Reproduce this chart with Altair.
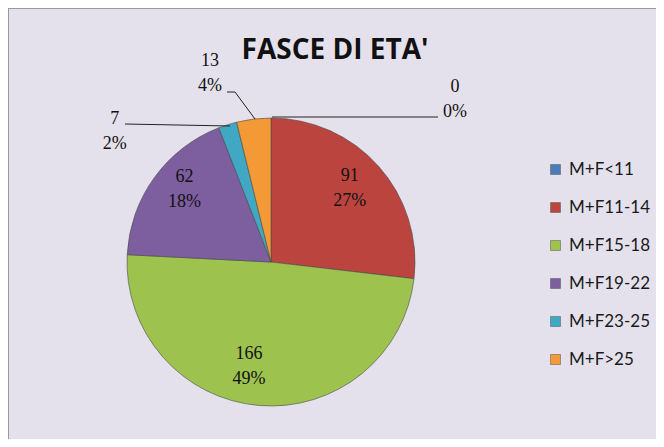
import altair as alt
import pandas as pd

# ---- data ----
categories = ["M+F<11", "M+F11-14", "M+F15-18", "M+F19-22", "M+F23-25", "M+F>25"]
values = [0, 91, 166, 62, 7, 13]
percents = ["0%", "27%", "49%", "18%", "2%", "4%"]
colors = ["#4a7ebb", "#bc443f", "#9dc24e", "#7d5fa0", "#41a8c4", "#f39a36"]

df = pd.DataFrame({
    "cat": categories,
    "value": values,
    "pct": percents,
    "idx": list(range(len(categories))),
})
df["label"] = df["value"].astype(str) + "\n" + df["pct"]

BG = "#e4e1ec"
R = 144

base = alt.Chart(df).encode(
    theta=alt.Theta("value:Q", stack=True, scale=alt.Scale(type="linear")),
    order=alt.Order("idx:Q"),
)

color_enc = alt.Color(
    "cat:N",
    scale=alt.Scale(domain=categories, range=colors),
    sort=categories,
    legend=alt.Legend(
        title=None, orient="none", legendX=420, legendY=43,
        symbolType="square", symbolSize=100, symbolStrokeWidth=0.5,
        symbolStrokeColor="#555555", symbolOpacity=1,
        labelFont="Lato", labelFontSize=17, labelColor="#1a1a1a",
        rowPadding=20, labelOffset=5, padding=0,
    ),
)

pie = base.mark_arc(outerRadius=R, stroke="#4a4a4a", strokeWidth=0.6).encode(
    color=color_enc
)

TEXT_STYLE = dict(
    font="Liberation Serif", fontSize=18, color="#111111",
    lineBreak="\n", lineHeight=25, baseline="middle", align="center",
)

LIFT = -12


def label_layer(test, r, dx=0, dy=0):
    return base.mark_text(dx=dx, dy=dy + LIFT, **TEXT_STYLE).encode(
        text=alt.condition(test, "label:N", alt.value("")),
        radius=alt.value(r),
    )


lab_red = label_layer(alt.datum.cat == "M+F11-14", 108, -2, -2)
lab_green = label_layer(alt.datum.cat == "M+F15-18", 108, -13, -4)
lab_purple = label_layer(alt.datum.cat == "M+F19-22", 108, 1, -10)
lab0 = label_layer(alt.datum.cat == "M+F<11", 163, 184, 0)
lab13 = label_layer(alt.datum.cat == "M+F>25", 200, -37, 10)
lab7 = label_layer(alt.datum.cat == "M+F23-25", 160, -108, 22)

line_data = alt.Chart(pd.DataFrame({"k": [0]}))


def seg(x1, y1, x2, y2, color="#222222"):
    return line_data.mark_rule(color=color, strokeWidth=1).encode(
        x=alt.value(x1), y=alt.value(y1), x2=alt.value(x2), y2=alt.value(y2)
    )


leaders = [
    seg(145, -1, 311, -1),
    seg(-2, 6, 103, 8),
    seg(100, -26, 108, -26),
    seg(108, -26, 128, 1),
]

frame = [
    seg(-119, -109.5, 529, -109.5, "#9a9a9a"),
    seg(-118.5, -110, -118.5, 321, "#9a9a9a"),
]

title = line_data.mark_text(
    text="FASCE DI ETA'", font="Open Sans", fontSize=28, fontWeight="bold",
    color="#111111", align="center", baseline="alphabetic",
).encode(x=alt.value(208), y=alt.value(-59))

chart = alt.layer(
    pie, lab_red, lab_green, lab_purple, lab0, lab13, lab7, *leaders, *frame, title
).properties(
    width=288, height=288,
    padding={"left": 119, "top": 110, "right": 241, "bottom": 33},
    autosize=alt.AutoSizeParams(type="none"),
    background=BG,
).configure_view(stroke=None)

chart.save("out.html", embed_options={"renderer": "svg", "actions": False})
